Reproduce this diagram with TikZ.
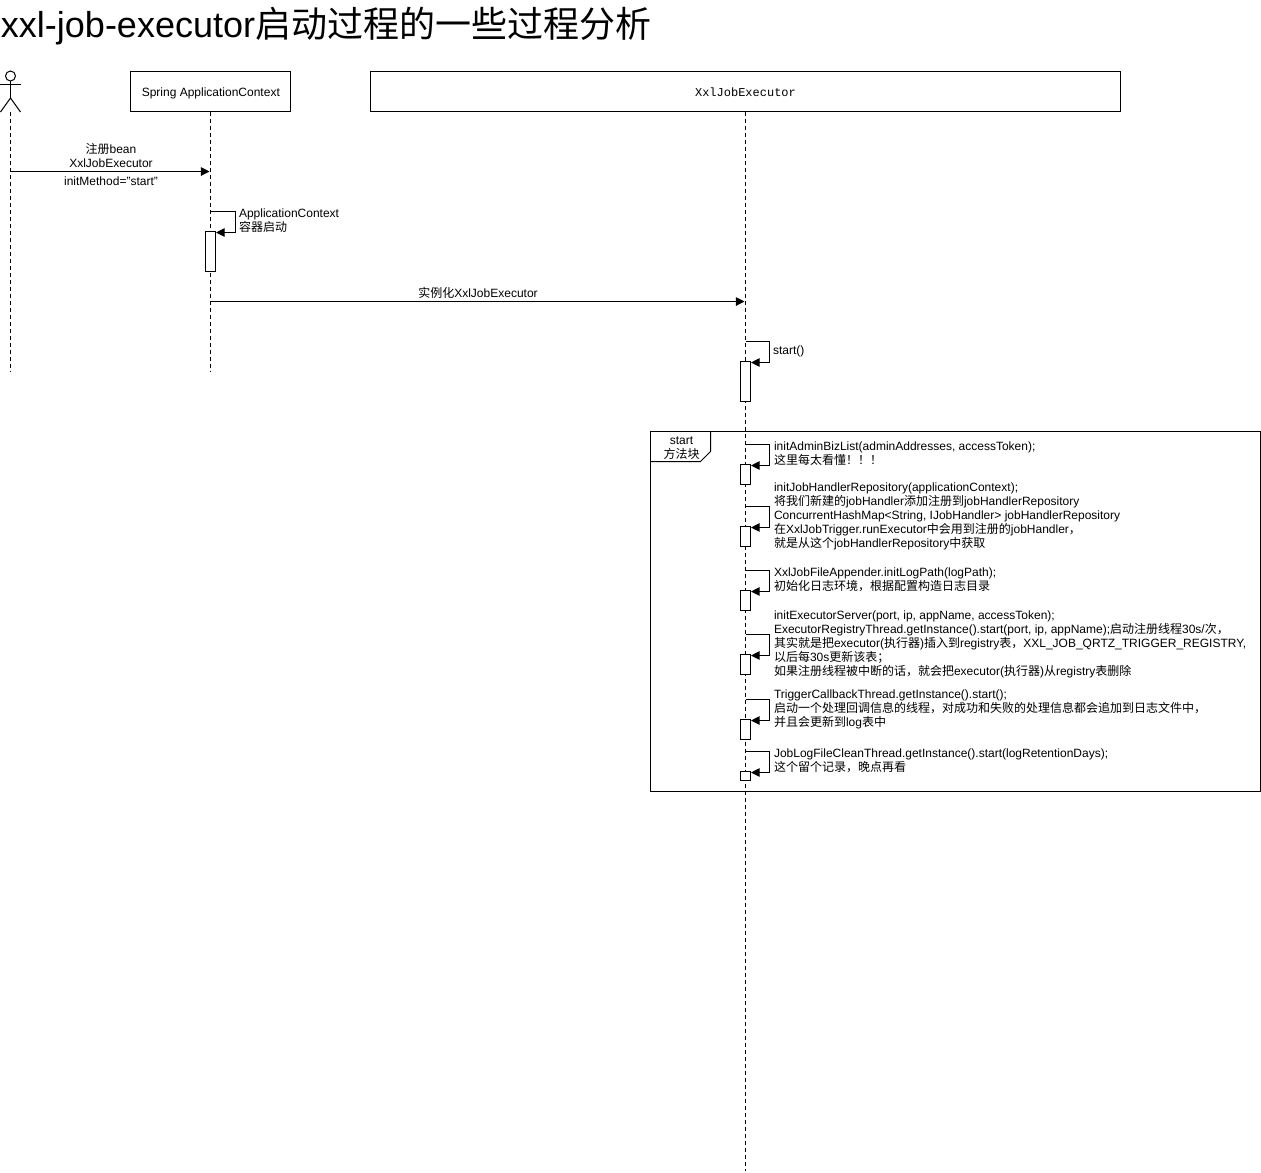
\documentclass[tikz,border=0pt]{standalone}
\usepackage{fontspec}
\setmainfont{Liberation Sans}
\setmonofont{Liberation Mono}
\newfontfamily\cjk{Noto Sans CJK SC}
\newcommand{\zh}[1]{{\cjk #1}}
\usetikzlibrary{arrows.meta}
\tikzset{
  every node/.style={inner sep=0pt,outer sep=0pt},
  base/.style={line width=0.75pt,draw=black},
  head/.style={base,fill=white,font=\fontsize{9}{10.5}\selectfont},
  life/.style={base,dashed,dash pattern=on 3pt off 2.25pt},
  msg/.style={base,-{Triangle[length=6.5pt,width=6.5pt]}},
  lbl/.style={font=\fontsize{9}{10.5}\selectfont,align=center},
  note/.style={font=\fontsize{9}{10.5}\selectfont,align=left,anchor=west},
  act/.style={base,fill=white,minimum width=7.5pt,anchor=north},
}
\begin{document}
\begin{tikzpicture}[x=0.75pt,y=-0.75pt]
\useasboundingbox (0,0) rectangle (1261,1172);
\node[anchor=west,font=\fontsize{27}{30}\selectfont] (title) at (1,26.5) {xxl-job-executor\zh{启动过程的一些过程分析}};
% actor
\coordinate (actorhead) at (10.5,76);
\coordinate (actorhip) at (10.5,98);
\coordinate (actorL) at (0.5,84);
\coordinate (actorR) at (20.5,84);
\coordinate (actorLL) at (0.5,112);
\coordinate (actorRL) at (20.5,112);
\draw[base] (actorhead) circle[radius=3.75pt];
\draw[base] (10.5,81) -- (actorhip);
\draw[base] (actorL) -- (actorR);
\draw[base] (actorLL) -- (actorhip) -- (actorRL);
\node[head,minimum width=120pt,minimum height=30pt] (spring) at (210.5,91.5) {\raisebox{-1.3pt}[7pt][2pt]{\hspace{0.5pt}Spring ApplicationContext}};
\node[head,minimum width=562.5pt,minimum height=30pt,font=\ttfamily\fontsize{9}{10}\selectfont] (xxl) at (745.5,91.5) {\raisebox{-1.3pt}[7pt][2pt]{XxlJobExecutor}};
% lifeline ends
\coordinate (actorend) at (10.5,372);
\coordinate (springend) at (210.5,372);
\coordinate (xxlend) at (745.5,1171);
\draw[life] (10.5,112) -- (actorend);
\draw[life] (spring.south) -- (springend);
\draw[life] (xxl.south) -- (xxlend);
% frame
\coordinate (fTL) at (650.5,431.5);
\coordinate (fBR) at (1260.5,791.5);
\draw[base] (fTL) rectangle (fBR);
\coordinate (t1) at (710.5,431.5);
\coordinate (t2) at (710.5,451.5);
\coordinate (t3) at (700.5,461.5);
\coordinate (t4) at (650.5,461.5);
\draw[base] (t1) -- (t2) -- (t3) -- (t4);
\node[lbl] (framelabel) at (681.5,448) {start\\\zh{方法块}};
% activation boxes
\node[act,minimum height=30pt] (a0) at (210.5,231.5) {};
\node[act,minimum height=30pt] (a1) at (745.5,361.5) {};
\node[act,minimum height=15pt] (b1) at (745.5,464.5) {};
\node[act,minimum height=15pt] (b2) at (745.5,526.5) {};
\node[act,minimum height=15pt] (b3) at (745.5,590.5) {};
\node[act,minimum height=15pt] (b4) at (745.5,654.5) {};
\node[act,minimum height=15pt] (b5) at (745.5,719.5) {};
\node[act,minimum height=7pt] (b6) at (745.5,771.5) {};
% messages
\coordinate (m1s) at (10.5,171.5);
\coordinate (m1e) at (209.5,171.5);
\draw[msg] (m1s) -- (m1e);
\node[lbl] (m1t) at (111,155) {\zh{注册}bean\\XxlJobExecutor};
\node[lbl] (m1u) at (111,181) {initMethod="start"};
\coordinate (m2s) at (210.5,301.5);
\coordinate (m2e) at (744.5,301.5);
\draw[msg] (m2s) -- (m2e);
\node[lbl] (m2t) at (478,293) {\zh{实例化}XxlJobExecutor};
% self calls
\coordinate (s0) at (210.5,211.5);
\draw[msg] (s0) -- ++(25,0) |- ([xshift=0.4pt,yshift=-0.75pt]a0.north east);
\coordinate (s1) at (745.5,341.5);
\draw[msg] (s1) -- ++(24,0) |- ([xshift=0.4pt,yshift=-0.75pt]a1.north east);
\coordinate (c1) at (745.5,444.5);
\draw[msg] (c1) -- ++(24,0) |- ([xshift=0.4pt,yshift=-0.75pt]b1.north east);
\coordinate (c2) at (745.5,506.5);
\draw[msg] (c2) -- ++(24,0) |- ([xshift=0.4pt,yshift=-0.75pt]b2.north east);
\coordinate (c3) at (745.5,570.5);
\draw[msg] (c3) -- ++(24,0) |- ([xshift=0.4pt,yshift=-0.75pt]b3.north east);
\coordinate (c4) at (745.5,634.5);
\draw[msg] (c4) -- ++(24,0) |- ([xshift=0.4pt,yshift=-0.75pt]b4.north east);
\coordinate (c5) at (745.5,699.5);
\draw[msg] (c5) -- ++(24,0) |- ([xshift=0.4pt,yshift=-0.75pt]b5.north east);
\coordinate (c6) at (745.5,751.5);
\draw[msg] (c6) -- ++(24,0) |- ([xshift=0.4pt,yshift=-0.75pt]b6.north east);
% self call labels
\node[note] (n0) at (239,221) {ApplicationContext\\\zh{容器启动}};
\node[note] (n1) at (773,351) {start()};
\node[note] (n2) at (774,454) {initAdminBizList(adminAddresses, accessToken);\\\zh{这里每太看懂！！！}};
\node[note] (n3) at (774,516) {initJobHandlerRepository(applicationContext);\\\zh{将我们新建的}jobHandler\zh{添加注册到}jobHandlerRepository\\ConcurrentHashMap<String, IJobHandler> jobHandlerRepository\\\zh{在}XxlJobTrigger.runExecutor\zh{中会用到注册的}jobHandler\zh{，}\\\zh{就是从这个}jobHandlerRepository\zh{中获取}};
\node[note] (n4) at (774,580) {XxlJobFileAppender.initLogPath(logPath);\\\zh{初始化日志环境，根据配置构造日志目录}};
\node[note] (n5) at (774,644) {initExecutorServer(port, ip, appName, accessToken);\\ExecutorRegistryThread.getInstance().start(port, ip, appName);\zh{启动注册线程}30s/\zh{次，}\\\zh{其实就是把}executor(\zh{执行器})\zh{插入到}registry\zh{表，}XXL\_JOB\_QRTZ\_TRIGGER\_REGISTRY,\\\zh{以后每}30s\zh{更新该表；}\\\zh{如果注册线程被中断的话，就会把}executor(\zh{执行器})\zh{从}registry\zh{表删除}};
\node[note] (n6) at (774,709) {TriggerCallbackThread.getInstance().start();\\\zh{启动一个处理回调信息的线程，对成功和失败的处理信息都会追加到日志文件中，}\\\zh{并且会更新到}log\zh{表中}};
\node[note] (n7) at (774,761) {JobLogFileCleanThread.getInstance().start(logRetentionDays);\\\zh{这个留个记录，晚点再看}};
\end{tikzpicture}
\end{document}
